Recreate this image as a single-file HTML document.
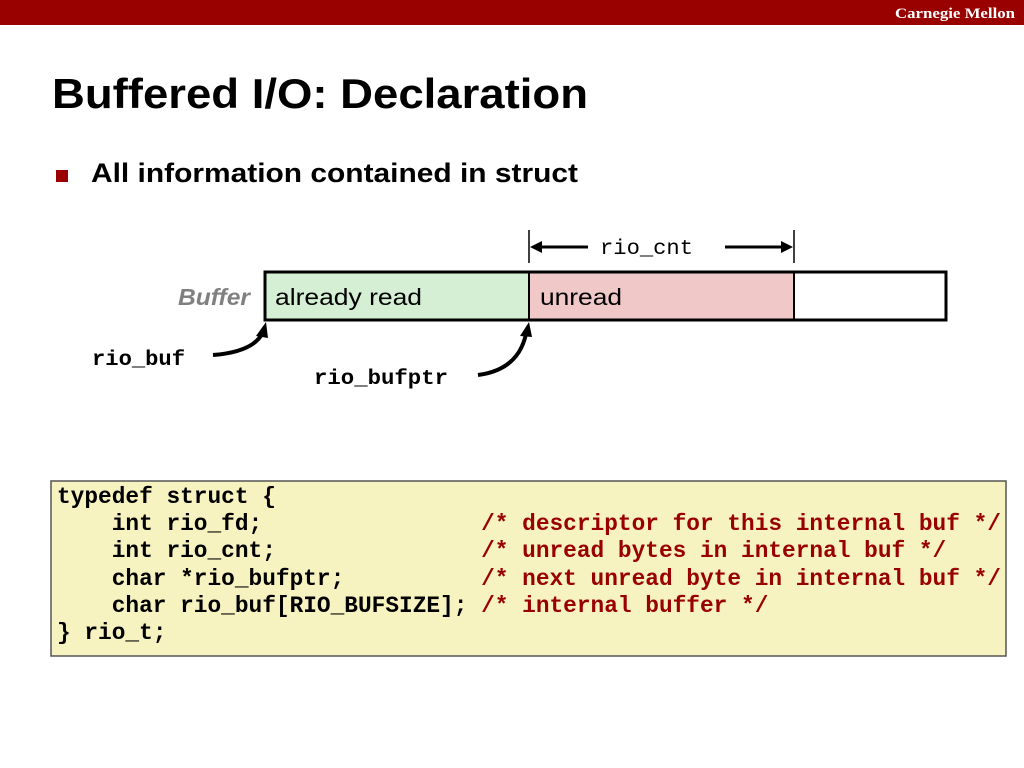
<!DOCTYPE html>
<html><head><meta charset="utf-8"><style>
html,body{margin:0;padding:0;background:#fff;}
svg{display:block;}
</style></head><body>
<svg width="1024" height="768" xmlns="http://www.w3.org/2000/svg">
<rect x="0" y="0" width="1024" height="25" fill="#990000"/>
<text x="1015" y="18" text-anchor="end" font-family="Liberation Serif, serif" font-weight="bold" font-size="15" fill="#fff" textLength="120" lengthAdjust="spacingAndGlyphs">Carnegie Mellon</text>
<text x="52" y="108" font-family="Liberation Sans, sans-serif" font-weight="bold" font-size="42" fill="#000" textLength="536" lengthAdjust="spacingAndGlyphs">Buffered I/O: Declaration</text>
<rect x="56" y="170" width="12" height="12" fill="#990000"/>
<text x="91" y="182" font-family="Liberation Sans, sans-serif" font-weight="bold" font-size="27" fill="#000" textLength="487" lengthAdjust="spacingAndGlyphs">All information contained in struct</text>

<!-- rio_cnt -->
<line x1="529" y1="230" x2="529" y2="263" stroke="#000" stroke-width="1.5"/>
<line x1="794" y1="230" x2="794" y2="263" stroke="#000" stroke-width="1.5"/>
<line x1="536" y1="247" x2="588" y2="247" stroke="#000" stroke-width="3"/>
<polygon points="530,247 542,241 542,253" fill="#000"/>
<line x1="725" y1="247" x2="787" y2="247" stroke="#000" stroke-width="3"/>
<polygon points="793,247 781,241 781,253" fill="#000"/>
<text x="600" y="254" font-family="Liberation Mono, monospace" font-size="21" fill="#000" textLength="93" lengthAdjust="spacingAndGlyphs">rio_cnt</text>

<!-- buffer -->
<rect x="265" y="272" width="264" height="48" fill="#d4efd4"/>
<rect x="529" y="272" width="265" height="48" fill="#f0c8c8"/>
<rect x="265" y="272" width="681" height="48" fill="none" stroke="#000" stroke-width="3"/>
<line x1="529" y1="272" x2="529" y2="320" stroke="#000" stroke-width="2"/>
<line x1="794" y1="272" x2="794" y2="320" stroke="#000" stroke-width="2"/>
<text x="178" y="305" font-family="Liberation Sans, sans-serif" font-weight="bold" font-style="italic" font-size="23" fill="#808080" textLength="72" lengthAdjust="spacingAndGlyphs">Buffer</text>
<text x="275" y="305" font-family="Liberation Sans, sans-serif" font-size="23" fill="#000" textLength="147" lengthAdjust="spacingAndGlyphs">already read</text>
<text x="540" y="305" font-family="Liberation Sans, sans-serif" font-size="23" fill="#000" textLength="82" lengthAdjust="spacingAndGlyphs">unread</text>

<!-- pointers -->
<text x="92" y="365" font-family="Liberation Mono, monospace" font-weight="bold" font-size="21" fill="#000" textLength="93" lengthAdjust="spacingAndGlyphs">rio_buf</text>
<path d="M213,355 Q252,352 262,334" fill="none" stroke="#000" stroke-width="4"/>
<polygon points="266,322 256,336 268,338" fill="#000"/>
<text x="314" y="384" font-family="Liberation Mono, monospace" font-weight="bold" font-size="21" fill="#000" textLength="134" lengthAdjust="spacingAndGlyphs">rio_bufptr</text>
<path d="M478,375 Q518,370 526,334" fill="none" stroke="#000" stroke-width="4"/>
<polygon points="529,322 520,336 532,337" fill="#000"/>

<!-- code box -->
<rect x="51" y="481" width="955" height="175" fill="#f7f3c1" stroke="#555" stroke-width="1.5"/>
<g font-family="Liberation Mono, monospace" font-weight="bold" font-size="22.8" fill="#000">
<text x="57" y="503" xml:space="preserve">typedef struct {</text>
<text x="57" y="530" xml:space="preserve">    int rio_fd;                <tspan fill="#990000">/* descriptor for this internal buf */</tspan></text>
<text x="57" y="557" xml:space="preserve">    int rio_cnt;               <tspan fill="#990000">/* unread bytes in internal buf */</tspan></text>
<text x="57" y="585" xml:space="preserve">    char *rio_bufptr;          <tspan fill="#990000">/* next unread byte in internal buf */</tspan></text>
<text x="57" y="612" xml:space="preserve">    char rio_buf[RIO_BUFSIZE]; <tspan fill="#990000">/* internal buffer */</tspan></text>
<text x="57" y="639" xml:space="preserve">} rio_t;</text>
</g>
</svg>
</body></html>
